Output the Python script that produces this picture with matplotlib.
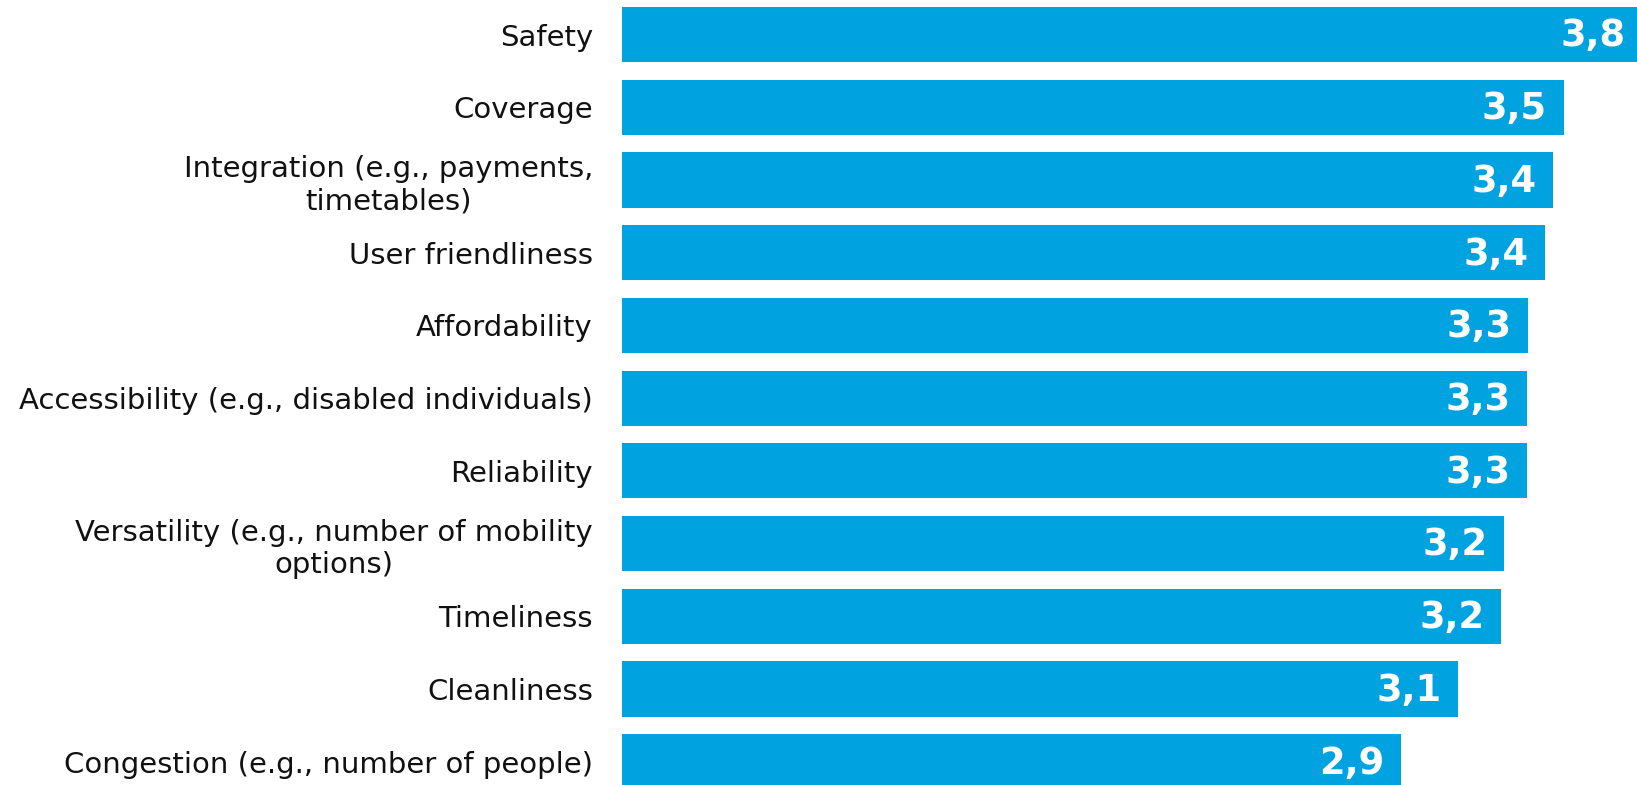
import numpy as np
import matplotlib
matplotlib.use('Agg')
from matplotlib import pyplot as plt

# mean scores, top to bottom
categories = ['Safety', 'Coverage', 'Integration (e.g., payments,\ntimetables)',
              'User friendliness', 'Affordability',
              'Accessibility (e.g., disabled individuals)', 'Reliability',
              'Versatility (e.g., number of mobility\noptions)', 'Timeliness',
              'Cleanliness', 'Congestion (e.g., number of people)']
scores = [3.76, 3.47, 3.43, 3.40, 3.34, 3.335, 3.335, 3.25, 3.24, 3.08, 2.87]

bar_color = '#00A3E0'

fig = plt.figure(figsize=(16.37, 7.85), dpi=100)
ax = fig.add_axes([0.38, 0.0, 0.62, 1.0])

y = np.arange(len(categories))
ax.barh(y, scores, height=0.76, color=bar_color)

for yi, v in zip(y, scores):
    lbl = ('%.1f' % v).replace('.', ',')
    ax.annotate(lbl, xy=(v, yi), xytext=(-12, -1), textcoords='offset points',
                ha='right', va='center', color='white', fontsize=26.5,
                fontweight='bold', annotation_clip=False)

ax.set_xlim(0, 3.74)
ax.set_ylim(10.32, -0.475)
ax.set_yticks(y)
ax.set_yticklabels(categories, fontsize=21, multialignment='center',
                   color='#111111')
ax.tick_params(axis='y', length=0, pad=21)
ax.set_xticks([])
for s in ax.spines.values():
    s.set_visible(False)

fig.savefig('out.png', dpi=100)
